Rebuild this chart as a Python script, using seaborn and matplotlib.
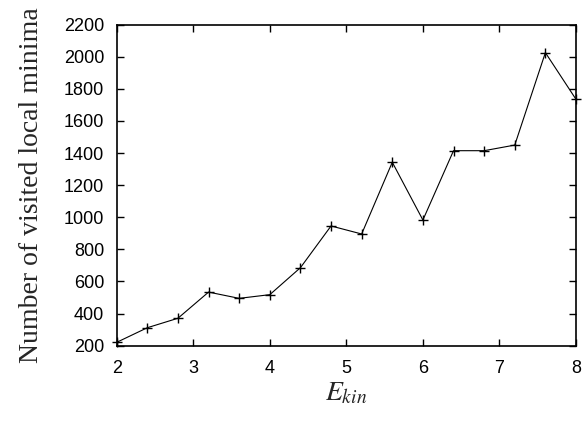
import matplotlib
matplotlib.use("Agg")
import matplotlib.pyplot as plt
import seaborn as sns
import pandas as pd

e_kin = [2.0, 2.4, 2.8, 3.2, 3.6, 4.0, 4.4, 4.8, 5.2, 5.6, 6.0, 6.4, 6.8, 7.2, 7.6, 8.0]
minima = [221, 312, 371, 534, 495, 518, 686, 946, 896, 1343, 983, 1415, 1415, 1450, 2026, 1735]
x_ticks = [2, 3, 4, 5, 6, 7, 8]
y_ticks = [200, 400, 600, 800, 1000, 1200, 1400, 1600, 1800, 2000, 2200]

sns.set_style("ticks")
plt.rcParams["font.family"] = ["Liberation Sans", "DejaVu Sans"]
plt.rcParams["mathtext.fontset"] = "stix"

df = pd.DataFrame({"E": e_kin, "N": minima})

fig = plt.figure(figsize=(5.84, 4.22), dpi=100)
ax = fig.add_axes([116.7 / 584, 1 - 345.7 / 422, (576 - 116.7) / 584, (345.7 - 24.7) / 422])

sns.lineplot(data=df, x="E", y="N", ax=ax, color="black", linewidth=0.8,
             marker="+", markersize=6.5, markeredgewidth=1.0,
             markeredgecolor="black", markerfacecolor="black", clip_on=False)

ax.set_xlim(2, 8)
ax.set_ylim(200, 2200)
ax.set_xticks(x_ticks)
ax.set_yticks(y_ticks)
ax.set_xticklabels([str(v) for v in x_ticks])
ax.set_yticklabels([str(v) for v in y_ticks])
ax.tick_params(direction="in", top=True, right=True, length=5, width=1.0,
               labelsize=13, colors="black")
ax.tick_params(axis="y", pad=9)
ax.tick_params(axis="x", pad=10)
for s in ax.spines.values():
    s.set_linewidth(1.2)
    s.set_color("black")

ax.set_xlabel(r"$E_{kin}$", fontsize=20, labelpad=3)
ax.set_ylabel("Number of visited local minima", fontsize=20,
              family=["Liberation Serif", "DejaVu Serif"], labelpad=14)

fig.savefig("out.png", dpi=100)
